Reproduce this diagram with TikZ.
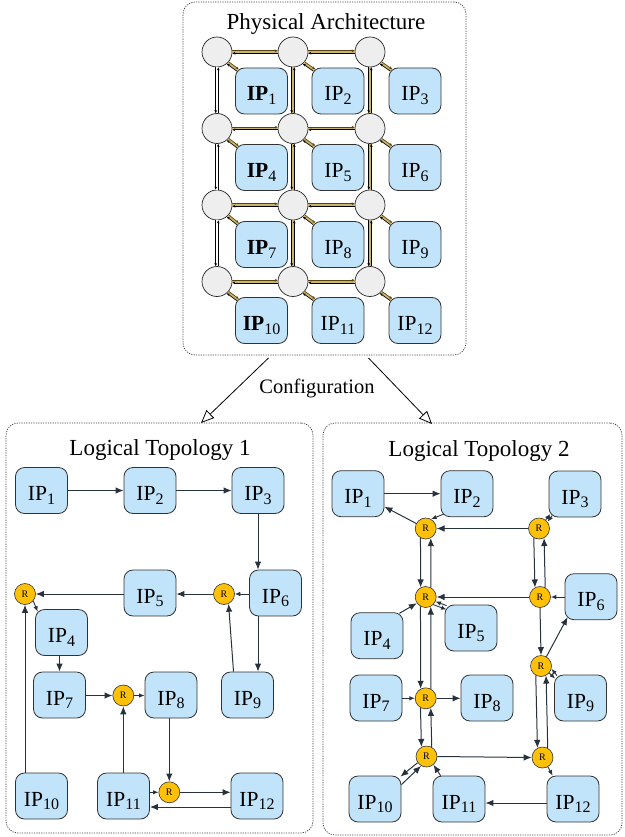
\documentclass[tikz,border=0pt]{standalone}
\usepackage{fontspec}
\setmainfont{Liberation Serif}
\usetikzlibrary{arrows.meta}
\definecolor{ipfill}{RGB}{194,228,250}
\definecolor{ipdraw}{RGB}{50,50,50}
\definecolor{rfill}{RGB}{255,193,7}
\definecolor{pfill}{RGB}{238,238,238}
\definecolor{edge}{RGB}{40,50,60}
\definecolor{bandgold}{RGB}{200,180,110}
\definecolor{bandedge}{RGB}{85,66,18}
\newcommand{\ipn}[1]{IP\raisebox{-3.8pt}{\mdseries\fontsize{16}{16}\selectfont #1}}
\tikzset{
  ip/.style={draw=ipdraw, fill=ipfill, line width=0.8pt, rounded corners=9pt,
    minimum width=52pt, minimum height=46pt, inner sep=0pt,
    text height=20pt, text depth=0pt, font=\fontsize{21.5}{21.5}\selectfont},
  rt/.style={circle, draw=ipdraw, fill=rfill, line width=0.6pt, minimum size=21pt,
    inner sep=0pt, font=\fontsize{10}{10}\selectfont},
  pr/.style={circle, draw=black!85, fill=pfill, line width=0.7pt, minimum size=30pt, inner sep=0pt},
  frame/.style={draw=black!75, line width=0.7pt, dash pattern=on 1.2pt off 1.2pt,
    rounded corners=12pt, inner sep=0pt, outer sep=0pt},
  title/.style={anchor=base, font=\fontsize{23}{23}\selectfont},
  arr/.style={draw=edge, line width=1pt, -{Latex[length=8pt,width=6.5pt]}},
  sarr/.style={draw=edge, line width=0.9pt, -{Latex[length=5.5pt,width=4.5pt]}},
  band/.style={line width=3.4pt, draw=bandgold},
  wband/.style={line width=3.4pt, draw=white},
  lka/.style={line width=0.6pt, draw=bandedge, -{Stealth[length=3pt,width=2.6pt]}},
  lkb/.style={line width=0.6pt, draw=black, -{Stealth[length=3pt,width=2.6pt]}},
  cfg/.style={line width=0.8pt, -{Triangle[length=13pt,width=11pt,fill=white]}}
}
\begin{document}
\begin{tikzpicture}[x=1pt,y=-1pt]
\useasboundingbox (0,0) rectangle (624,837);

% ---------- frames ----------
\node[frame, minimum width=283pt, minimum height=353pt] (PA) at (324.5,178.5) {};
\node[frame, minimum width=307pt, minimum height=410pt] (LT1) at (159.5,628) {};
\node[frame, minimum width=299pt, minimum height=412pt] (LT2) at (472.5,629) {};

\node[title] (tPA) at (326,29.3) {Physical Architecture};
\node[title] (tL1) at (160,455) {Logical Topology 1};
\node[title] (tL2) at (479,456.7) {Logical Topology 2};

% ---------- physical architecture ----------
\foreach \r/\y in {1/52,2/128.5,3/205,4/281.5}
  \foreach \c/\x in {1/217,2/293,3/370}
    \node[pr] (p\r\c) at (\x,\y) {};

\node[ip] (q1)  at (261.5,91)    {\bfseries\ipn{1}};
\node[ip] (q2)  at (338,91)      {\ipn{2}};
\node[ip] (q3)  at (415,91)      {\ipn{3}};
\node[ip] (q4)  at (261.5,167.5) {\bfseries\ipn{4}};
\node[ip] (q5)  at (338,167.5)   {\ipn{5}};
\node[ip] (q6)  at (415,167.5)   {\ipn{6}};
\node[ip] (q7)  at (261.5,244.5) {\bfseries\ipn{7}};
\node[ip] (q8)  at (338,244.5)   {\ipn{8}};
\node[ip] (q9)  at (415,244.5)   {\ipn{9}};
\node[ip] (q10) at (261.5,320.5) {\bfseries\ipn{10}};
\node[ip] (q11) at (338,320.5)   {\ipn{11}};
\node[ip] (q12) at (415,320.5)   {\ipn{12}};

% horizontal router links
\foreach \r in {1,...,4}{
  \foreach \a/\b in {1/2,2/3}{
    \draw[band] (p\r\a.east) -- (p\r\b.west);
    \draw[lka] ([shift={(0,-1.3)}]p\r\a.east) -- ([shift={(0,-1.3)}]p\r\b.west);
    \draw[lkb] ([shift={(0,1.3)}]p\r\b.west) -- ([shift={(0,1.3)}]p\r\a.east);
  }
}
% vertical router links
\foreach \c/\bs in {1/wband,2/band,3/band}{
  \foreach \a/\b in {1/2,2/3,3/4}{
    \draw[\bs] (p\a\c.south) -- (p\b\c.north);
    \draw[lkb] ([shift={(-1.3,0)}]p\a\c.south) -- ([shift={(-1.3,0)}]p\b\c.north);
    \draw[lkb] ([shift={(1.3,0)}]p\b\c.north) -- ([shift={(1.3,0)}]p\a\c.south);
  }
}
% router to core links
\foreach \r/\c/\n in {1/1/1,1/2/2,1/3/3,2/1/4,2/2/5,2/3/6,3/1/7,3/2/8,3/3/9,4/1/10,4/2/11,4/3/12}{
  \draw[band] (p\r\c.-45) -- ([shift={(2.6,2.6)}]q\n.north west);
  \draw[lka] ([shift={(0.95,-0.95)}]p\r\c.-45) -- ([shift={(3.55,1.65)}]q\n.north west);
  \draw[lkb] ([shift={(1.65,3.55)}]q\n.north west) -- ([shift={(-0.95,0.95)}]p\r\c.-45);
}

% ---------- configuration ----------
\node[anchor=base, font=\fontsize{20.5}{20.5}\selectfont] (cfgtxt) at (317,393.3) {Configuration};
\draw[cfg] ([shift={(-56,3)}]PA.south) -- ([shift={(195,0)}]LT1.north west);
\draw[cfg] ([shift={(44,3)}]PA.south) -- ([shift={(109,1)}]LT2.north west);

% ---------- logical topology 1 ----------
\node[ip] (a1)  at (41.5,490.5) {\ipn{1}};
\node[ip] (a2)  at (150,490.5)  {\ipn{2}};
\node[ip] (a3)  at (258,490.5)  {\ipn{3}};
\node[ip] (a5)  at (150,593)    {\ipn{5}};
\node[ip] (a6)  at (275.5,593)  {\ipn{6}};
\node[ip] (a4)  at (61.5,632.5) {\ipn{4}};
\node[ip] (a7)  at (59.5,695)   {\ipn{7}};
\node[ip] (a8)  at (171,695)    {\ipn{8}};
\node[ip] (a9)  at (247.5,695)  {\ipn{9}};
\node[ip] (a10) at (41.5,796)   {\ipn{10}};
\node[ip] (a11) at (123.5,796)  {\ipn{11}};
\node[ip] (a12) at (257,796)    {\ipn{12}};
\node[rt] (aR6)  at (224,594)    {R};
\node[rt] (aR4)  at (25,594)     {R};
\node[rt] (aR7)  at (123.3,695.5) {R};
\node[rt] (aR11) at (169.3,792.3) {R};

\draw[arr] (a1) -- (a2);
\draw[arr] (a2) -- (a3);
\draw[arr] (a3.south) -- (a3.south |- a6.north);
\draw[sarr] (a6.west |- aR6) -- (aR6.east);
\draw[arr] (aR6.west) -- (a5.east |- aR6);
\draw[arr] (a5.west |- aR4) -- (aR4.east);
\draw[sarr] (aR4.-40) -- ([shift={(2.6,2.6)}]a4.north west);
\draw[arr] (a10.north -| aR4) -- (aR4.south);
\draw[arr] (a4.south -| a7.north) -- (a7.north);
\draw[arr] (a7.east |- aR7) -- (aR7.west);
\draw[sarr] (aR7.east) -- (a8.west |- aR7);
\draw[arr] (a11.north -| aR7) -- (aR7.south);
\draw[arr] (a8.south -| aR11) -- (aR11.north);
\draw[sarr] (a11.east |- aR11) -- (aR11.west);
\draw[arr] (aR11.east) -- (a12.west |- aR11);
\draw[arr] ([shift={(0,11)}]a12.west) -- ([shift={(0,11)}]a11.east);
\draw[arr] (a6.south -| a3.south) -- (a9.north -| a3.south);
\draw[arr] ([shift={(-14,0)}]a9.north) -- (aR6.-65);

% ---------- logical topology 2 ----------
\node[ip] (b1)  at (358,493.7) {\ipn{1}};
\node[ip] (b2)  at (467,493.7) {\ipn{2}};
\node[ip] (b3)  at (575,494)   {\ipn{3}};
\node[ip] (b6)  at (591,596.7) {\ipn{6}};
\node[ip] (b4)  at (377,635.7) {\ipn{4}};
\node[ip] (b5)  at (471,628)   {\ipn{5}};
\node[ip] (b7)  at (376,698)   {\ipn{7}};
\node[ip] (b8)  at (487,698)   {\ipn{8}};
\node[ip] (b9)  at (580.5,698) {\ipn{9}};
\node[ip] (b10) at (375,799)   {\ipn{10}};
\node[ip] (b11) at (459,799)   {\ipn{11}};
\node[ip] (b12) at (573,799)   {\ipn{12}};
\node[rt] (bRa) at (425.7,528.5) {R};
\node[rt] (bRb) at (539,528.5)   {R};
\node[rt] (bRc) at (425.7,597)   {R};
\node[rt] (bRd) at (540,597)     {R};
\node[rt] (bRf) at (541,666)     {R};
\node[rt] (bRe) at (425.7,698.3) {R};
\node[rt] (bRg) at (426.5,756.5) {R};
\node[rt] (bRh) at (542.5,757.5) {R};

\draw[arr] (b1) -- (b2);
\draw[arr] (bRa.152) -- ([shift={(0,13)}]b1.east);
\draw[sarr] ([shift={(3,-3)}]b2.south west) -- (bRa.60);
\draw[arr] (bRb.west) -- (bRa.east);
\draw[sarr] ([shift={(3.6,-1.8)}]b3.south west) -- ([shift={(1,0.8)}]bRb.45);
\draw[sarr] ([shift={(-1,-0.8)}]bRb.45) -- ([shift={(1.6,-3.4)}]b3.south west);
\draw[arr] (bRa.241.6) -- (bRc.118.4);
\draw[arr] (bRc.61.6) -- (bRa.298.4);
\draw[arr] (bRb.241.6) -- (bRd.118.4);
\draw[arr] (bRd.61.6) -- (bRb.298.4);
\draw[arr] (bRd.west) -- (bRc.east);
\draw[sarr] (b6.west |- bRd) -- (bRd.east);
\draw[arr] (bRf.60) -- ([shift={(3,-3)}]b6.south west);
\draw[arr] (bRd.south) -- (bRf.north);
\draw[arr] ([shift={(-4,1)}]b4.north east) -- (bRc.215);
\draw[sarr] ([shift={(2,1)}]b5.north west) -- (bRc.-25);
\draw[sarr] (bRc.-45) -- ([shift={(2,5)}]b5.north west);
\draw[arr] (bRc.241.6) -- (bRe.118.4);
\draw[arr] (bRe.61.6) -- (bRc.298.4);
\draw[sarr] (b7.east |- bRe) -- (bRe.west);
\draw[arr] (bRe.east) -- (b8.west |- bRe);
\draw[arr] (bRe.241.6) -- (bRg.118.4);
\draw[arr] (bRg.61.6) -- (bRe.298.4);
\draw[arr] (bRg.east) -- (bRh.west);
\draw[arr] (bRg.215) -- ([shift={(-1,1)}]b10.north east);
\draw[arr] ([shift={(0,9)}]b10.north east) -- (bRg.240);
\draw[arr] ([shift={(8,0)}]b11.north west) -- (bRg.-50);
\draw[sarr] (bRh.-60) -- ([shift={(6,0)}]b12.north west);
\draw[arr] ([shift={(0,4)}]b12.west) -- ([shift={(0,4)}]b11.east);
\draw[arr] (bRf.241.6) -- (bRh.118.4);
\draw[arr] (bRh.61.6) -- (bRf.298.4);
\draw[sarr] ([shift={(3,1)}]b9.north west) -- (bRf.-15);
\draw[sarr] (bRf.-40) -- ([shift={(1,4)}]b9.north west);
\end{tikzpicture}
\end{document}
